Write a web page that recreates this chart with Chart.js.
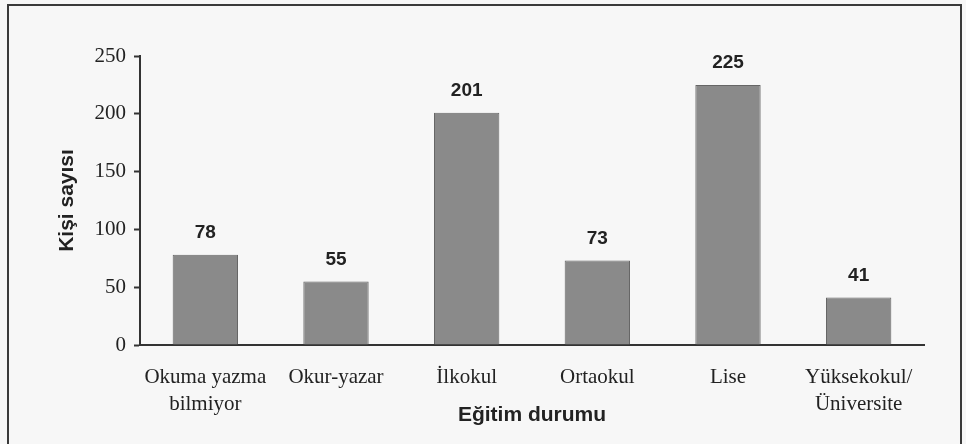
<!DOCTYPE html>
<html>
<head>
<meta charset="utf-8">
<script src="https://cdn.jsdelivr.net/npm/chart.js@4.4.1/dist/chart.umd.min.js"></script>
<style>
  html, body { margin: 0; padding: 0; background: #f7f7f7; }
  #wrap { position: relative; width: 966px; height: 444px; overflow: hidden; }
  #frame { position: absolute; left: 7px; top: 4px; width: 955px; height: 460px;
           border: 2px solid #3a3a3a; box-sizing: border-box; }
  canvas { position: absolute; left: 0; top: 0; }
</style>
</head>
<body>
<div id="wrap">
  <div id="frame"></div>
  <canvas id="c" width="966" height="444"></canvas>
</div>
<script>
const categories = [["Okuma yazma", "bilmiyor"], "Okur-yazar", "İlkokul", "Ortaokul", "Lise", ["Yüksekokul/", "Üniversite"]];
const counts = [78, 55, 201, 73, 225, 41];
const yTicks = [0, 50, 100, 150, 200, 250];
const yTitle = "Kişi sayısı";
const xTitle = "Eğitim durumu";

const serif = "'Liberation Serif', 'Times New Roman', serif";
const sans = "'Liberation Sans', Arial, sans-serif";

const valueLabels = {
  id: 'valueLabels',
  afterDatasetsDraw(chart) {
    const ctx = chart.ctx;
    const meta = chart.getDatasetMeta(0);
    ctx.save();
    ctx.font = "bold 19px " + sans;
    ctx.fillStyle = "#222";
    ctx.textAlign = "center";
    ctx.textBaseline = "middle";
    meta.data.forEach((bar, i) => {
      ctx.fillText(String(chart.data.datasets[0].data[i]), bar.x, bar.y - 22);
    });
    ctx.restore();
  }
};

new Chart(document.getElementById('c'), {
  type: 'bar',
  data: {
    labels: categories,
    datasets: [{
      data: counts,
      backgroundColor: '#8a8a8a',
      borderColor: '#666',
      borderWidth: 1,
      borderSkipped: 'bottom',
      categoryPercentage: 1.0,
      barPercentage: 0.5
    }]
  },
  options: {
    responsive: false,
    animation: false,
    layout: { padding: { left: 0, right: 42, top: 56, bottom: 0 } },
    plugins: { legend: { display: false }, tooltip: { enabled: false } },
    scales: {
      x: {
        grid: { display: false, drawTicks: false },
        border: { display: true, color: '#333', width: 2 },
        ticks: { color: '#222', font: { family: serif, size: 21, lineHeight: '27px' }, padding: 19, maxRotation: 0, autoSkip: false },
        title: { display: true, text: xTitle, color: '#222', font: { family: sans, size: 21, weight: 'bold' }, padding: { top: 0, bottom: 16 } },
        afterFit(scale) { scale.height = 99; }
      },
      y: {
        min: 0, max: 250,
        afterBuildTicks(scale) { scale.ticks = yTicks.map(v => ({ value: v })); },
        grid: { drawOnChartArea: false, drawTicks: true, tickLength: 6, tickColor: '#333', tickWidth: 2 },
        border: { display: true, color: '#333', width: 2 },
        ticks: { color: '#222', font: { family: serif, size: 21 }, padding: 8 },
        title: { display: true, text: yTitle, color: '#222', font: { family: sans, size: 21, weight: 'bold' }, padding: { top: 55, bottom: 0 } },
        afterFit(scale) { scale.width = 140; }
      }
    }
  },
  plugins: [valueLabels]
});
</script>
</body>
</html>
